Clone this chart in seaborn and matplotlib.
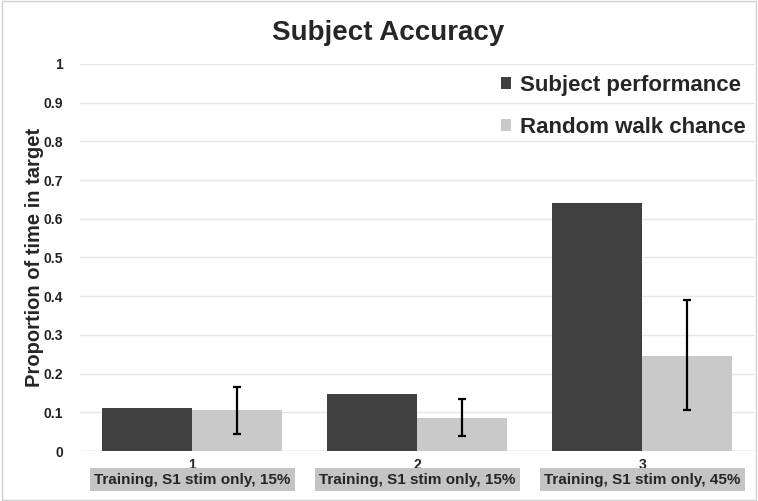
import matplotlib
matplotlib.use('Agg')
import matplotlib.pyplot as plt
import seaborn as sns
import pandas as pd
import numpy as np

# data
groups = ['1', '2', '3']
conditions = ['Training, S1 stim only, 15%', 'Training, S1 stim only, 15%', 'Training, S1 stim only, 45%']
subject = [0.11, 0.148, 0.64]
chance = [0.105, 0.085, 0.245]
chance_lo = [0.045, 0.04, 0.105]
chance_hi = [0.165, 0.135, 0.39]
series = ['Subject performance', 'Random walk chance']

sns.set_style('white')
plt.rcParams['font.family'] = ['Liberation Sans', 'DejaVu Sans']

df = pd.DataFrame({
    'group': groups * 2,
    'value': subject + chance,
    'series': [series[0]] * 3 + [series[1]] * 3,
})

fig = plt.figure(figsize=(7.58, 5.01), dpi=100)
ax = fig.add_axes([0.1055, 0.0998, 0.8905, 0.7725])
sns.barplot(data=df, x='group', y='value', hue='series', order=groups,
            hue_order=series, palette=['#404040', '#c9c9c9'], width=0.8,
            saturation=1, errorbar=None, linewidth=0, ax=ax, legend=True)

# error bars on the random walk bars
light_bars = ax.containers[1]
xs = [b.get_x() + b.get_width() / 2 for b in light_bars]
yerr = np.array([np.array(chance) - np.array(chance_lo), np.array(chance_hi) - np.array(chance)])
ax.errorbar(xs, chance, yerr=yerr, fmt='none', ecolor='black', elinewidth=1.6,
            capsize=3, capthick=1.6, zorder=5)

ax.set_ylim(0, 1)
ax.set_xlim(-0.5, 2.5)
ax.set_yticks(np.arange(0, 1.01, 0.1))
ax.set_yticklabels(['0'] + ['%.1f' % v for v in np.arange(0.1, 0.95, 0.1)] + ['1'],
                   fontsize=10, fontweight='bold', color='#222222')
ax.set_xticks(range(3))
ax.set_xticklabels(groups, fontsize=10, fontweight='bold', color='#222222')
ax.tick_params(axis='y', length=0, pad=12)
ax.tick_params(axis='x', length=0, pad=5)
ax.yaxis.grid(True, color='#e6e6e6', linewidth=1)
ax.set_axisbelow(True)
for s in ax.spines.values():
    s.set_visible(False)
ax.axhline(0, color='#d9d9d9', linewidth=1, zorder=0)

ax.set_xlabel('')
ax.set_ylabel('Proportion of time in target', fontsize=14.5, fontweight='bold', labelpad=0)
fig.text(0.512, 0.934, 'Subject Accuracy', ha='center', va='center',
         fontsize=20, fontweight='bold')

# condition labels in gray boxes
for i, c in enumerate(conditions):
    ax.text(i, -0.074, c, ha='center', va='center', fontsize=11, fontweight='bold',
            transform=ax.transData, clip_on=False,
            bbox=dict(boxstyle='square,pad=0.3', fc='#c4c4c4', ec='none'))

leg = ax.legend(loc='upper right', bbox_to_anchor=(1.003, 1.0), frameon=False,
                prop={'size': 16, 'weight': 'bold'}, handlelength=0.45,
                handleheight=0.45, handletextpad=0.4, labelspacing=0.95,
                borderaxespad=0.1)

fig.patches.append(plt.Rectangle((0.002, 0.002), 0.996, 0.996, transform=fig.transFigure,
                                 fill=False, ec='#d0d0d0', lw=1))

fig.savefig('out.png', dpi=100)
